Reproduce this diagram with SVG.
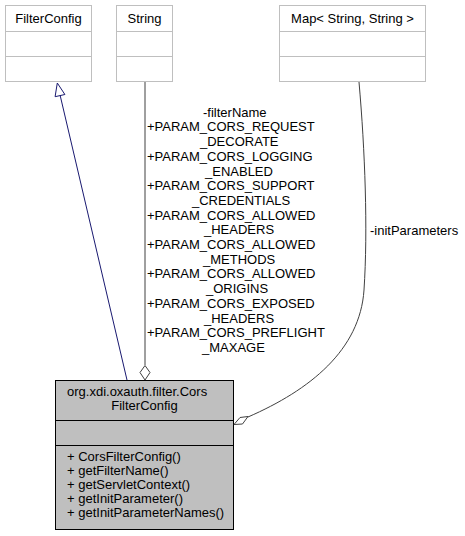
<svg xmlns="http://www.w3.org/2000/svg" width="465" height="536" viewBox="0 0 465 536">
<style>
text{font-family:"Liberation Sans",Arial,sans-serif;font-size:13px;fill:#000}
.ext rect{fill:#fff;stroke:#bfbfbf;stroke-width:1}
.ext line{stroke:#bfbfbf;stroke-width:1}
.main rect{fill:#bfbfbf;stroke:#000;stroke-width:1}
.main line{stroke:#000;stroke-width:1}
.mid{text-anchor:middle}
.agg{fill:none;stroke:#404040;stroke-width:1}
.inh{fill:none;stroke:#191970;stroke-width:1}
</style>
<rect width="465" height="536" fill="#fff"/>
<g id="FilterConfig" class="ext">
<rect x="5.5" y="5.5" width="86" height="76"/>
<line x1="5.5" y1="31.5" x2="91.5" y2="31.5"/>
<line x1="5.5" y1="56.5" x2="91.5" y2="56.5"/>
<text class="mid" x="48.5" y="23">FilterConfig</text>
</g>
<g id="String" class="ext">
<rect x="116.5" y="5.5" width="56" height="76"/>
<line x1="116.5" y1="31.5" x2="172.5" y2="31.5"/>
<line x1="116.5" y1="56.5" x2="172.5" y2="56.5"/>
<text class="mid" x="144.5" y="23">String</text>
</g>
<g id="MapStringString" class="ext">
<rect x="279.5" y="5.5" width="146" height="76"/>
<line x1="279.5" y1="31.5" x2="425.5" y2="31.5"/>
<line x1="279.5" y1="56.5" x2="425.5" y2="56.5"/>
<text class="mid" x="352.5" y="23">Map&lt; String, String &gt;</text>
</g>
<g id="CorsFilterConfig" class="main">
<rect x="55.5" y="380.5" width="178" height="149"/>
<line x1="55.5" y1="420.5" x2="233.5" y2="420.5"/>
<line x1="55.5" y1="445.5" x2="233.5" y2="445.5"/>
<text x="67" y="396">org.xdi.oxauth.filter.Cors</text>
<text class="mid" x="144.5" y="410">FilterConfig</text>
<text x="67" y="461">+ CorsFilterConfig()</text>
<text x="67" y="475">+ getFilterName()</text>
<text x="67" y="489">+ getServletContext()</text>
<text x="67" y="503">+ getInitParameter()</text>
<text x="67" y="517">+ getInitParameterNames()</text>
</g>
<g id="connectors">
<path class="inh" d="M127,380 L60.2,95.6"/>
<polygon class="inh" points="57.3,83 64.9,94.5 55.1,96.7"/>
<path class="agg" d="M145,82 L145,365"/>
<polygon class="agg" points="145,365.5 150,372.5 145,380 140,372.5"/>
<path class="agg" d="M359,82 C365,150 368,230 364,290 C360,350 310,390 248,417"/>
<polygon class="agg" points="234,424.5 240,417.5 248,416.5 242.5,424"/>
<text x="370" y="235">-initParameters</text>
<g id="label-filterName">
<text x="203" y="116.7">-filterName</text>
<text x="147" y="131.4">+PARAM_CORS_REQUEST</text>
<text x="200" y="146.1">_DECORATE</text>
<text x="147" y="160.8">+PARAM_CORS_LOGGING</text>
<text x="205" y="175.5">_ENABLED</text>
<text x="147" y="190.2">+PARAM_CORS_SUPPORT</text>
<text x="192" y="204.9">_CREDENTIALS</text>
<text x="147" y="219.6">+PARAM_CORS_ALLOWED</text>
<text x="204" y="234.3">_HEADERS</text>
<text x="147" y="249">+PARAM_CORS_ALLOWED</text>
<text x="203" y="263.7">_METHODS</text>
<text x="147" y="278.4">+PARAM_CORS_ALLOWED</text>
<text x="206" y="293.1">_ORIGINS</text>
<text x="147" y="307.8">+PARAM_CORS_EXPOSED</text>
<text x="204" y="322.5">_HEADERS</text>
<text x="147" y="337.2">+PARAM_CORS_PREFLIGHT</text>
<text x="202" y="351.9">_MAXAGE</text>
</g>
</g>
</svg>
